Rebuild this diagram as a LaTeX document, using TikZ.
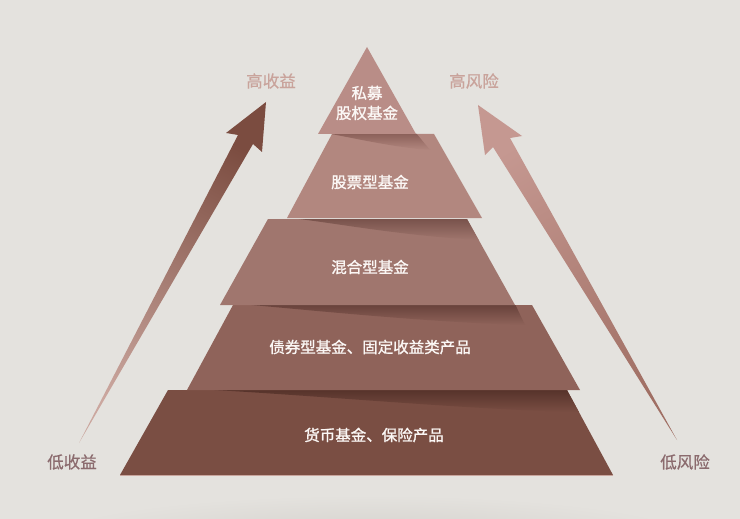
\documentclass[tikz,border=0pt]{standalone}
\usepackage{fontspec}
\setmainfont{Noto Sans CJK SC}
\newfontfamily\ptfont{Noto Sans CJK SC}[AutoFakeBold=1.2]
\newfontfamily\lbfont{Noto Sans CJK SC}[AutoFakeBold=0.6]
\definecolor{bg}{HTML}{E4E2DE}
\definecolor{bgdark}{HTML}{D3D0CB}
\definecolor{lA}{HTML}{B98D87}
\definecolor{lB}{HTML}{B2877F}
\definecolor{lC}{HTML}{A0766E}
\definecolor{lD}{HTML}{8F635A}
\definecolor{lE}{HTML}{7A4E43}
\definecolor{lBd}{HTML}{8A5F58}
\definecolor{lCd}{HTML}{77514A}
\definecolor{lDd}{HTML}{67413A}
\definecolor{lEd}{HTML}{55322A}
\definecolor{edge}{HTML}{C9A59D}
\definecolor{laHead}{HTML}{7B4C40}
\definecolor{laTail}{HTML}{CBA79F}
\definecolor{raHead}{HTML}{C59891}
\definecolor{raTail}{HTML}{A06F64}
\definecolor{hicol}{HTML}{C9A39B}
\definecolor{locol}{HTML}{8B6B6E}
\definecolor{txt}{HTML}{FBF7F5}
\tikzset{
  ptext/.style={text=txt, font=\ptfont\bfseries\fontsize{15.5}{20}\selectfont, align=center, inner sep=0pt},
  hlabel/.style={text=hicol, font=\lbfont\bfseries\fontsize{16.5}{20}\selectfont, inner sep=0pt},
  llabel/.style={text=locol, font=\lbfont\bfseries\fontsize{16.5}{20}\selectfont, inner sep=0pt}
}
\begin{document}
\begin{tikzpicture}[x=1pt,y=-1pt]
\useasboundingbox (0,0) rectangle (740,519);
\fill[bg] (0,0) rectangle (740,519);
\begin{scope}
  \clip (0,0) rectangle (740,519);
  \shade[inner color=bgdark, outer color=bg] (370,540) ellipse [x radius=330pt, y radius=45pt];
\end{scope}

% arrows
\shade[top color=laHead, bottom color=laTail, shading angle=-29]
  (266,102) -- (262,152) -- (253,144) -- (79,443) -- (238,135) -- (226,133) -- cycle;
\shade[top color=raHead, bottom color=raTail, shading angle=30]
  (478,105) -- (522,136) -- (510,138) -- (677,440) -- (493,147) -- (485,155) -- cycle;

% layer 5
\fill[lE] (168,390) -- (567,390) -- (613,475) -- (120,475) -- cycle;
\draw[edge, line width=0.8pt] (120,475.4) -- (613,475.4);
\begin{scope}
  \clip (168,390) -- (567,390) -- (613,475) -- (120,475) -- cycle;
  \shade[top color=lEd, bottom color=lE] (195,389) -- (580,389) -- (580,412) .. controls (470,410) and (300,394) .. (195,389) -- cycle;
\end{scope}
% layer 4
\fill[lD] (233,305) -- (532,305) -- (580,390) -- (187,390) -- cycle;
\begin{scope}
  \clip (233,305) -- (532,305) -- (580,390) -- (187,390) -- cycle;
  \shade[top color=lDd, bottom color=lD] (240,304) -- (515,304) -- (525,325) .. controls (420,322) and (300,309) .. (240,304) -- cycle;
\end{scope}
% layer 3
\fill[lC] (268,219) -- (467,219) -- (515,305) -- (220,305) -- cycle;
\begin{scope}
  \clip (268,219) -- (467,219) -- (515,305) -- (220,305) -- cycle;
  \shade[top color=lCd, bottom color=lC] (290,218) -- (482,218) -- (482,240) .. controls (400,236) and (330,222) .. (290,218) -- cycle;
\end{scope}
% layer 2
\fill[lB] (332,134) -- (434,134) -- (482,218) -- (287,218) -- cycle;
\begin{scope}
  \clip (332,134) -- (434,134) -- (482,218) -- (287,218) -- cycle;
  \shade[top color=lBd, bottom color=lB] (325,133) -- (416,133) -- (430,150) .. controls (390,147) and (350,137) .. (325,133) -- cycle;
\end{scope}
% layer 1
\fill[lA] (367,47) -- (416,134) -- (318,134) -- cycle;

% texts
\node[ptext] (t1) at (367,103) {私募\\股权基金};
\node[ptext] (t2) at (370,182) {股票型基金};
\node[ptext] (t3) at (370,267) {混合型基金};
\node[ptext] (t4) at (370,347) {债券型基金、固定收益类产品};
\node[ptext] (t5) at (374,435) {货币基金、保险产品};

\node[hlabel] (hs) at (271,81) {高收益};
\node[hlabel] (hr) at (474,81) {高风险};
\node[llabel] (ls) at (72,462) {低收益};
\node[llabel] (lr) at (685,462) {低风险};
\end{tikzpicture}
\end{document}
